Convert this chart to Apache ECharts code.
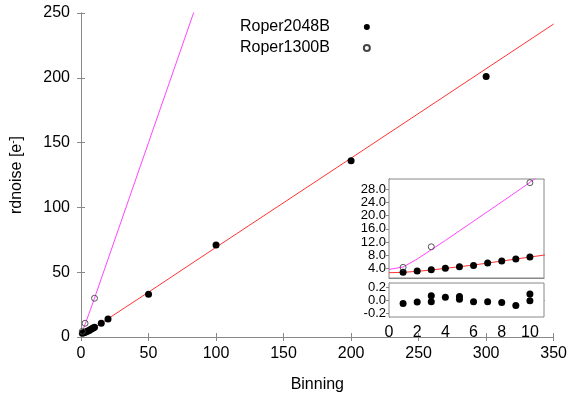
<!DOCTYPE html>
<html>
<head>
<meta charset="utf-8">
<script src="https://cdn.jsdelivr.net/npm/echarts@6/dist/echarts.min.js"></script>
<style>
  html, body { margin: 0; padding: 0; background: #fff; }
  #main { width: 570px; height: 398px; }
</style>
</head>
<body>
<div id="main"></div>
<script>
// measured points
const binA = [1, 2, 3, 4, 5, 6, 7, 8, 9, 10, 15, 20, 50, 100, 200, 300];
const noiseA = [2.9, 3.3, 3.7, 4.1, 4.6, 5.0, 5.7, 6.3, 6.9, 7.5, 10.7, 13.8, 33, 71, 136, 201];
const binB = [1, 3, 10];
const noiseB = [4.4, 10.6, 29.9];

// fitted curves
const fitRedX = [0, 1, 2, 3, 4, 5, 6, 7, 8, 9, 10, 11, 15, 20, 50, 100, 200, 300, 350];
const fitRedY = [2.8, 2.9, 3.2, 3.6, 4.1, 4.6, 5.1, 5.7, 6.3, 6.9, 7.5, 8.1, 10.7, 14.1, 34.6, 69.2, 138, 207, 241.5];
const fitMagX = [0, 1, 2, 3, 4, 5, 6, 7, 8, 9, 10, 11, 20, 50, 84];
const fitMagY = [3.8, 4.5, 6.9, 9.7, 12.5, 15.4, 18.3, 21.2, 24.1, 27.0, 30.0, 33.0, 60, 150, 252];

// residuals (inset bottom)
const resX = [1, 2, 3, 3, 4, 5, 5, 6, 7, 8, 9, 10, 10];
const resY = [-0.045, -0.024, 0.07, -0.02, 0.05, 0.06, 0.02, -0.02, -0.02, -0.03, -0.075, 0.1, -0.005];

// tick labels
const mainXTicks = [0, 50, 100, 150, 200, 250, 300, 350];
const insetXLabels = [0, 2, 4, 6, 8, 10];
const insetXTicks = [1, 2, 3, 4, 5, 6, 7, 8, 9, 10];
const insetYTicks = [4, 8, 12, 16, 20, 24, 28];
const resYTicks = [-0.2, 0.0, 0.2];

const pairs = (xs, ys) => xs.map((x, i) => [x, ys[i]]);
const font = 'Liberation Sans, Arial, sans-serif';
const frame = '#888';

let chart = echarts.init(document.getElementById('main'));

function frameAxis(extra) {
    return Object.assign({
        type: 'value',
        axisLine: {show: true, lineStyle: {color: frame, width: 1}},
        axisTick: {show: true, inside: true, length: 4, lineStyle: {color: frame}},
        axisLabel: {show: false},
        splitLine: {show: false}
    }, extra);
}

const filled = {color: '#000', opacity: 1};
// open circles: transparent fill, thin dark outline
const open = {color: 'rgba(255,255,255,0)', borderColor: '#444', borderWidth: 0.9, opacity: 1};

let option = {
    animation: false,
    backgroundColor: '#fff',
    textStyle: {fontFamily: font},
    legend: {
        orient: 'vertical',
        left: 235,
        top: 14,
        align: 'right',
        itemWidth: 6,
        itemHeight: 6,
        itemGap: 5,
        selectedMode: false,
        textStyle: {fontSize: 16, color: '#000', fontFamily: font, padding: [0, 29, 0, 0]},
        data: [
            {name: 'Roper2048B', icon: 'circle'},
            {name: 'Roper1300B', icon: 'circle'}
        ]
    },
    grid: [
        {left: 79, top: 13, width: 476, height: 327},
        {left: 389, top: 179, width: 155, height: 99, show: true, backgroundColor: '#fff', borderColor: frame, z: 5},
        {left: 389, top: 283, width: 155, height: 34, show: true, backgroundColor: '#fff', borderColor: frame, z: 5}
    ],
    xAxis: [
        frameAxis({
            gridIndex: 0, min: 0, max: 350, interval: 50, position: 'bottom',
            name: 'Binning', nameLocation: 'middle', nameGap: 40,
            nameTextStyle: {fontSize: 16, color: '#000'},
            axisLabel: {show: true, fontSize: 16, color: '#000', margin: 9,
                        customValues: mainXTicks}
        }),
        frameAxis({gridIndex: 0, min: 0, max: 350, interval: 50, position: 'top'}),
        frameAxis({gridIndex: 1, min: 0, max: 11, position: 'bottom',
                   axisTick: {show: true, inside: true, length: 3, lineStyle: {color: frame}, customValues: insetXTicks}}),
        frameAxis({gridIndex: 1, min: 0, max: 11, position: 'top',
                   axisTick: {show: true, inside: true, length: 3, lineStyle: {color: frame}, customValues: insetXTicks}}),
        frameAxis({gridIndex: 2, min: 0, max: 11, position: 'bottom',
                   axisTick: {show: true, inside: true, length: 3, lineStyle: {color: frame}, customValues: insetXTicks},
                   axisLabel: {show: true, fontSize: 16, color: '#000', margin: 8, customValues: insetXLabels}}),
        frameAxis({gridIndex: 2, min: 0, max: 11, position: 'top',
                   axisTick: {show: true, inside: true, length: 3, lineStyle: {color: frame}, customValues: insetXTicks}})
    ],
    yAxis: [
        frameAxis({
            gridIndex: 0, min: 0, max: 250, interval: 50, position: 'left',
            name: 'rdnoise [e{sup|-}]', nameLocation: 'middle', nameGap: 55, nameRotate: 90,
            nameTextStyle: {fontSize: 16, color: '#000',
                            rich: {sup: {fontSize: 10, color: '#000', padding: [0, 0, 8, 0]}}},
            axisLabel: {show: true, fontSize: 16, color: '#000', margin: 11}
        }),
        frameAxis({gridIndex: 0, min: 0, max: 250, interval: 50, position: 'right'}),
        frameAxis({gridIndex: 1, min: 1.2, max: 31, position: 'left',
                   axisTick: {show: true, inside: true, length: 3, lineStyle: {color: frame}, customValues: insetYTicks},
                   axisLabel: {show: true, fontSize: 13, color: '#000', margin: 3, lineHeight: 12,
                               customValues: insetYTicks, formatter: v => v.toFixed(1)}}),
        frameAxis({gridIndex: 1, min: 1.2, max: 31, position: 'right',
                   axisTick: {show: true, inside: true, length: 3, lineStyle: {color: frame}, customValues: insetYTicks}}),
        frameAxis({gridIndex: 2, min: -0.25, max: 0.265, position: 'left',
                   axisTick: {show: true, inside: true, length: 3, lineStyle: {color: frame}, customValues: resYTicks},
                   axisLabel: {show: true, fontSize: 13, color: '#000', margin: 3, lineHeight: 12,
                               customValues: resYTicks, formatter: v => v.toFixed(1)}}),
        frameAxis({gridIndex: 2, min: -0.25, max: 0.265, position: 'right',
                   axisTick: {show: true, inside: true, length: 3, lineStyle: {color: frame}, customValues: resYTicks}})
    ],
    series: [
        // main panel
        {type: 'line', xAxisIndex: 0, yAxisIndex: 0, data: pairs(fitRedX, fitRedY), showSymbol: false,
         lineStyle: {color: '#ff3333', width: 1}, z: 2},
        {type: 'line', xAxisIndex: 0, yAxisIndex: 0, data: pairs(fitMagX, fitMagY), showSymbol: false,
         lineStyle: {color: '#ff44ff', width: 1}, z: 2},
        {name: 'Roper2048B', type: 'scatter', xAxisIndex: 0, yAxisIndex: 0, data: pairs(binA, noiseA),
         symbol: 'circle', symbolSize: 7, itemStyle: filled, z: 3},
        {name: 'Roper1300B', type: 'scatter', xAxisIndex: 0, yAxisIndex: 0, data: pairs(binB, noiseB),
         symbol: 'circle', symbolSize: 6, itemStyle: open, z: 3},
        // inset top
        {type: 'line', xAxisIndex: 2, yAxisIndex: 2, data: pairs(fitRedX, fitRedY), showSymbol: false,
         lineStyle: {color: '#ff3333', width: 1}, z: 6},
        {type: 'line', xAxisIndex: 2, yAxisIndex: 2, data: pairs(fitMagX, fitMagY), showSymbol: false,
         lineStyle: {color: '#ff44ff', width: 1}, z: 6},
        {name: 'Roper2048B', type: 'scatter', xAxisIndex: 2, yAxisIndex: 2, data: pairs(binA, noiseA),
         symbol: 'circle', symbolSize: 7, itemStyle: filled, z: 7},
        {name: 'Roper1300B', type: 'scatter', xAxisIndex: 2, yAxisIndex: 2, data: pairs(binB, noiseB),
         symbol: 'circle', symbolSize: 6, itemStyle: open, z: 7},
        // inset residuals
        {type: 'scatter', xAxisIndex: 4, yAxisIndex: 4, data: pairs(resX, resY),
         symbol: 'circle', symbolSize: 7, itemStyle: filled, z: 7}
    ]
};
chart.setOption(option);
</script>
</body>
</html>
